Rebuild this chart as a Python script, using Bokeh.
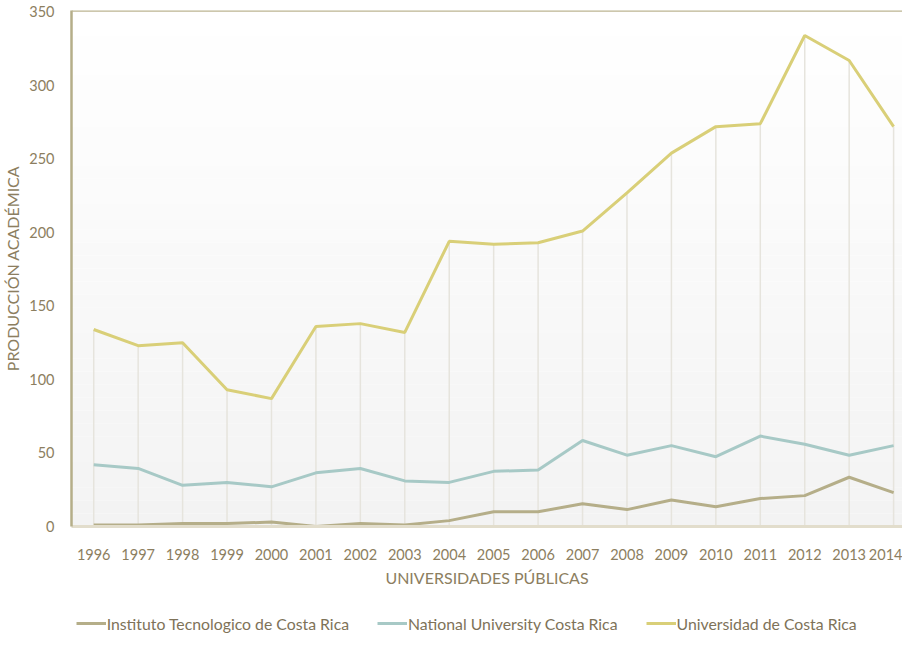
from bokeh.plotting import figure
from bokeh.layouts import column
from bokeh.models import (ColumnDataSource, Legend, LegendItem, BoxAnnotation, Span,
                          FixedTicker, Range1d)
from bokeh.embed import file_html
from bokeh.resources import INLINE

years = list(range(1996, 2015))
itcr = [1, 1, 2, 2, 3, 0, 2, 1, 4, 10, 10, 15.5, 11.5, 18, 13.5, 19, 21, 33.5, 23]
una = [42, 39.5, 28, 30, 27, 36.5, 39.5, 31, 30, 37.5, 38.5, 58.5, 48.5, 55, 47.5, 61.5, 56, 48.5, 55]
ucr = [134, 123, 125, 93, 87, 136, 138, 132, 194, 192, 193, 201, 227, 254, 272, 274, 334, 317, 272]
series_names = ["Instituto Tecnologico de Costa Rica", "National University Costa Rica",
                "Universidad de Costa Rica"]
y_ticks = [0, 50, 100, 150, 200, 250, 300, 350]

C_ITCR = "#b5ae89"
C_UNA = "#a7c9c6"
C_UCR = "#d9cf78"
colors = [C_ITCR, C_UNA, C_UCR]
TXT = "#8c7e60"
FONT = "Lato"

p = figure(frame_width=831, frame_height=516, output_backend="svg", toolbar_location=None,
           x_range=Range1d(1995.5, 2014.2), y_range=Range1d(0, 351),
           min_border_left=65, min_border_right=0, min_border_top=10, min_border_bottom=0)
p.background_fill_color = "#ffffff"
p.border_fill_color = "#ffffff"
p.outline_line_color = None
p.xgrid.grid_line_color = None
p.ygrid.grid_line_color = None

# vertical gradient background (white at top to light grey at bottom)
N = 40
top_c = (255, 255, 255)
bot_c = (243, 243, 243)
for i in range(N):
    f = i / (N - 1)
    c = tuple(int(round(bot_c[k] + (top_c[k] - bot_c[k]) * f)) for k in range(3))
    p.add_layout(BoxAnnotation(bottom=351 * i / N, top=351 * (i + 1) / N,
                               fill_color="#%02x%02x%02x" % c, fill_alpha=1.0,
                               line_color=None, level="underlay"))

# drop lines from the top series
p.segment(x0=years, y0=[0] * len(years), x1=years, y1=ucr, line_color="#e6e4dd", line_width=1.5)

src = ColumnDataSource(dict(x=years, itcr=itcr, una=una, ucr=ucr))
p.line("x", "itcr", source=src, line_color=C_ITCR, line_width=3)
p.line("x", "una", source=src, line_color=C_UNA, line_width=3)
p.line("x", "ucr", source=src, line_color=C_UCR, line_width=3)

p.add_layout(Span(location=351, dimension="width", line_color="#bcb592", line_width=2.5))

# axes
p.xaxis.ticker = FixedTicker(ticks=years)
p.yaxis.ticker = FixedTicker(ticks=y_ticks)
for ax in (p.xaxis[0], p.yaxis[0]):
    ax.major_tick_line_color = None
    ax.minor_tick_line_color = None
    ax.major_label_text_color = TXT
    ax.major_label_text_font = FONT
    ax.major_label_text_font_size = "14.5px"
    ax.axis_label_text_color = TXT
    ax.axis_label_text_font = FONT
    ax.axis_label_text_font_size = "16px"
    ax.axis_label_text_font_style = "normal"

p.xaxis.axis_label = "UNIVERSIDADES PÚBLICAS"
p.xaxis.axis_line_color = "#e2ddcc"
p.xaxis.axis_line_width = 3
p.xaxis.major_label_standoff = 16
p.xaxis.axis_label_standoff = 5

p.yaxis.axis_label = "PRODUCCIÓN ACADÉMICA"
p.yaxis.axis_line_color = "#b5ae89"
p.yaxis.axis_line_width = 2.5
p.yaxis.major_label_standoff = 11
p.yaxis.axis_label_standoff = 4

# legend strip below the chart (series drawn outside its visible range; only swatches show)
lg = figure(frame_width=831, frame_height=40, output_backend="svg", toolbar_location=None,
            x_range=Range1d(0, 1), y_range=Range1d(0, 1),
            min_border_left=65, min_border_right=0, min_border_top=14, min_border_bottom=0)
lg.axis.visible = False
lg.grid.grid_line_color = None
lg.outline_line_color = None
lg.background_fill_color = "#ffffff"
lg.border_fill_color = "#ffffff"
items = []
for name, col, key in zip(series_names, colors, ["itcr", "una", "ucr"]):
    r = lg.line("x", key, source=src, line_color=col, line_width=3)
    items.append(LegendItem(label=name, renderers=[r]))

legend = Legend(items=items, orientation="horizontal", location=(54, 10))
legend.label_text_font = FONT
legend.label_text_font_size = "15.8px"
legend.label_text_color = "#7e7258"
legend.glyph_width = 30
legend.label_standoff = 1
legend.spacing = 28
legend.border_line_color = None
legend.background_fill_alpha = 0
legend.padding = 0
legend.margin = 0
lg.add_layout(legend, "center")

layout = column(p, lg, spacing=0)
open("out.html", "w").write(file_html(layout, INLINE))
